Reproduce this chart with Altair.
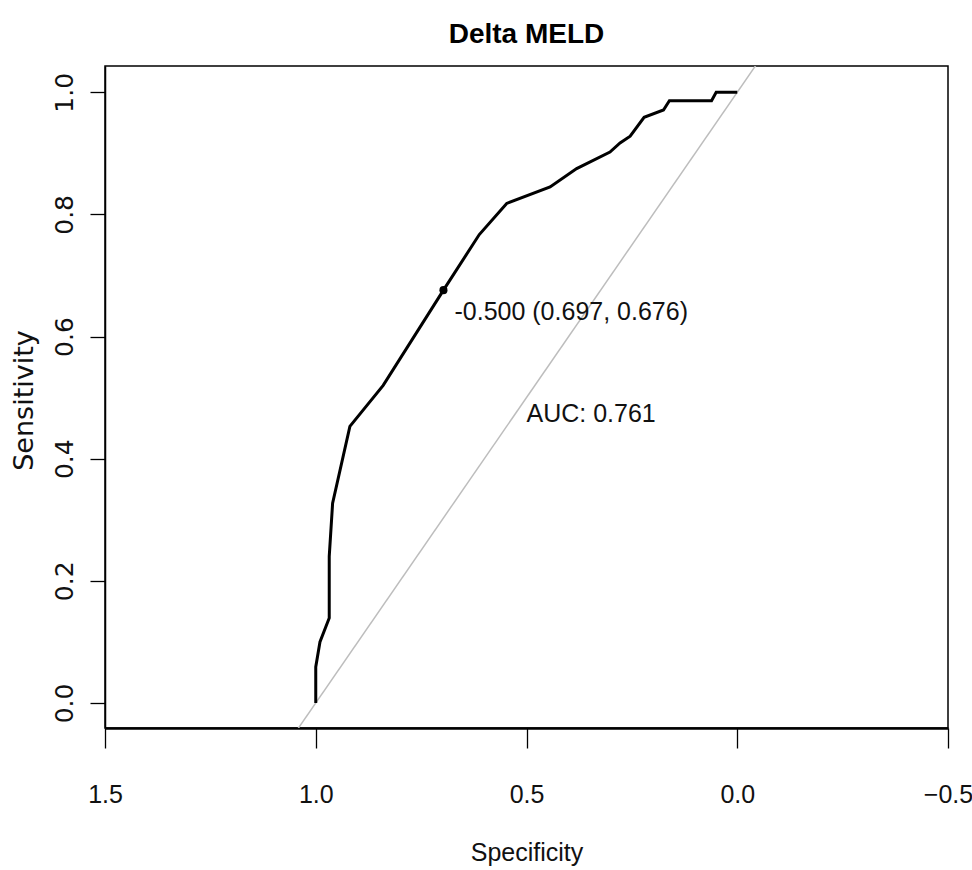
import altair as alt
import pandas as pd

# ROC curve for Delta MELD (specificity, sensitivity)
specificity = [1.0, 1.0, 0.990, 0.968, 0.968, 0.960, 0.919, 0.840, 0.697, 0.612,
               0.547, 0.444, 0.381, 0.302, 0.278, 0.254, 0.221, 0.175, 0.161,
               0.061, 0.050, 0.0]
sensitivity = [0.0, 0.059, 0.100, 0.139, 0.240, 0.327, 0.453, 0.520, 0.676, 0.767,
               0.818, 0.845, 0.875, 0.902, 0.917, 0.928, 0.959, 0.971, 0.986,
               0.986, 1.0, 1.0]

# chance diagonal, extended to the edges of the panel
diag_spec = [1.05, -0.05]
diag_sens = [-0.05, 1.05]

# best threshold and AUC
thr_spec = [0.697]
thr_sens = [0.676]
thr_label = ["-0.500 (0.697, 0.676)"]
auc_x = [0.5]
auc_y = [0.5]
auc_label = ["AUC: 0.761"]

x_ticks = [1.5, 1.0, 0.5, 0.0, -0.5]
y_ticks = [0.0, 0.2, 0.4, 0.6, 0.8, 1.0]

SANS = "Liberation Sans"
WIDE = "DejaVu Sans"

roc = pd.DataFrame({"spec": specificity, "sens": sensitivity,
                    "i": list(range(len(specificity)))})
diag = pd.DataFrame({"spec": diag_spec, "sens": diag_sens})
thr = pd.DataFrame({"spec": thr_spec, "sens": thr_sens, "label": thr_label})
auc = pd.DataFrame({"spec": auc_x, "sens": auc_y, "label": auc_label})

x_scale = alt.Scale(domain=[-0.5, 1.5], reverse=True, nice=False, zero=False)
y_scale = alt.Scale(domain=[-0.041, 1.043], nice=False, zero=False)

x_axis = alt.Axis(
    values=x_ticks, format=".1f", title="Specificity",
    grid=False, labelFlush=False, labelOverlap=False,
    labelFont=SANS, labelFontSize=25, labelColor="#111",
    labelBaseline="alphabetic", labelPadding=54,
    tickSize=20, tickColor="black", tickWidth=1.3,
    domainColor="black", domainWidth=2.6,
    titleFont=SANS, titleFontSize=25, titleFontWeight="normal",
    titleColor="#111", titleBaseline="alphabetic", titleAlign="center",
    titleX=421.5, titleY=132,
)
y_axis = alt.Axis(
    values=y_ticks, format=".1f", title="Sensitivity",
    grid=False, labelFlush=False, labelOverlap=False,
    labelFont=WIDE, labelFontSize=25, labelColor="#111",
    labelAngle=270, labelAlign="center", labelBaseline="alphabetic",
    labelPadding=18,
    tickSize=15, tickColor="black", tickWidth=1.3,
    domainColor="black", domainWidth=1.5,
    titleFont=WIDE, titleFontSize=27, titleFontWeight="normal",
    titleColor="#111", titleAngle=270, titleBaseline="alphabetic",
    titleAlign="center", titleX=-73, titleY=334,
)

X = alt.X("spec:Q", scale=x_scale, axis=x_axis)
Y = alt.Y("sens:Q", scale=y_scale, axis=y_axis)

diag_line = alt.Chart(diag).mark_line(color="#bdbdbd", strokeWidth=1.5, clip=True).encode(
    x=X, y=Y
)
roc_line = alt.Chart(roc).mark_line(color="black", strokeWidth=3).encode(
    x=X, y=Y, order="i:Q"
)
thr_point = alt.Chart(thr).mark_point(filled=True, color="black", size=65, opacity=1).encode(
    x=X, y=Y
)
thr_text = alt.Chart(thr).mark_text(
    font=SANS, fontSize=25, color="#111", align="left",
    baseline="alphabetic", dx=11, dy=30
).encode(x=X, y=Y, text="label:N")
auc_text = alt.Chart(auc).mark_text(
    font=SANS, fontSize=25, color="#111", align="left",
    baseline="alphabetic", dx=0, dy=24
).encode(x=X, y=Y, text="label:N")

chart = alt.layer(diag_line, roc_line, thr_point, thr_text, auc_text).properties(
    width=843, height=662,
    autosize=alt.AutoSizeParams(type="none"),
    padding={"left": 105, "top": 66, "right": 24, "bottom": 142},
    title=alt.Title(
        "Delta MELD", font=SANS, fontSize=28, fontWeight="bold",
        color="black", anchor="middle", frame="group",
        baseline="alphabetic", offset=28, dy=33,
    ),
).configure(
    background="white",
    view=alt.ViewConfig(stroke="black", strokeWidth=1.5),
)

chart.save("out.html", embed_options={"renderer": "svg", "actions": False})
